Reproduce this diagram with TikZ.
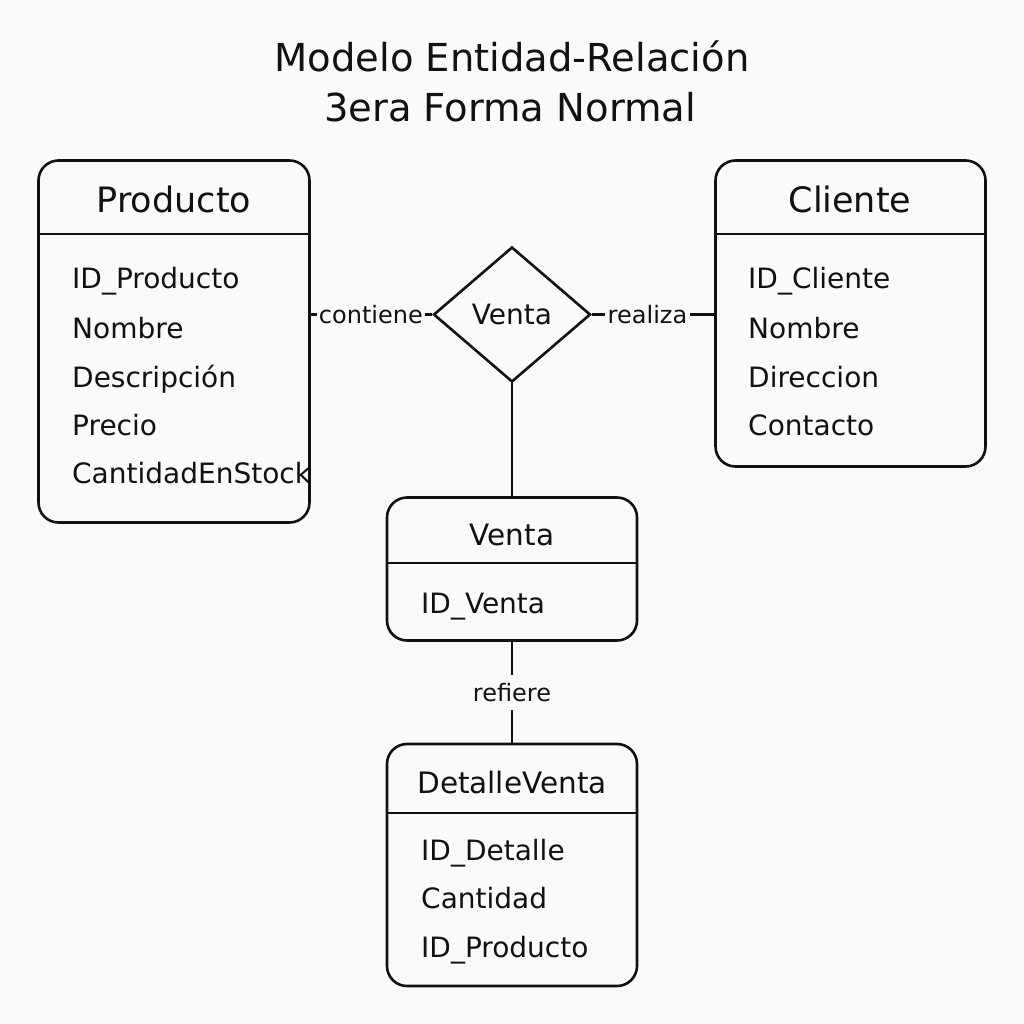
\documentclass[tikz,border=0pt]{standalone}
\usepackage{fontspec}
\setmainfont{DejaVu Sans}
\usetikzlibrary{shapes.geometric}
\definecolor{bg}{RGB}{250,250,250}
\definecolor{ink}{RGB}{17,17,17}
\begin{document}
\begin{tikzpicture}[x=1pt,y=-1pt,
  entbox/.style={draw=ink, line width=2.6pt, rounded corners=20pt, anchor=north west, inner sep=0pt, outer sep=0pt},
  sepline/.style={draw=ink, line width=2.6pt},
  bighdr/.style={anchor=base, inner sep=0pt, text=ink, font=\fontsize{35}{42}\selectfont},
  smallhdr/.style={anchor=base, inner sep=0pt, text=ink, font=\fontsize{29.5}{36}\selectfont},
  attr/.style={anchor=base west, inner sep=0pt, text=ink, font=\fontsize{28}{34}\selectfont},
  lbl/.style={fill=bg, inner xsep=3pt, inner ysep=8pt, text=ink, font=\fontsize{24}{28}\selectfont},
  conn/.style={draw=ink, line width=2.4pt},
  ttl/.style={anchor=base, inner sep=0pt, text=ink, font=\fontsize{38.5}{46}\selectfont}]

\fill[bg] (0,0) rectangle (1024,1024);
\useasboundingbox (0,0) rectangle (1024,1024);

% title
\node[ttl] (t1) at (512,72) {Modelo Entidad-Relación};
\node[ttl] (t2) at (510,122) {3era Forma Normal};

% helper coordinates for header separator lines
\coordinate (hA) at (0,234);
\coordinate (hV) at (0,563);
\coordinate (hD) at (0,813);

% Producto
\node[entbox, minimum width=271pt, minimum height=362pt] (prod) at (38.5,160.5) {};
\draw[sepline] (prod.west |- hA) -- (prod.east |- hA);
\node[bighdr] (prodh) at (174,213) {Producto};
\node[attr] (p1) at (72,288) {ID\_Producto};
\node[attr] (p2) at (72,338) {Nombre};
\node[attr] (p3) at (72,387) {Descripción};
\node[attr] (p4) at (72,435) {Precio};
\node[attr] (p5) at (72,483) {CantidadEnStock};

% Cliente
\node[entbox, minimum width=270pt, minimum height=306pt] (cli) at (715.5,160.5) {};
\draw[sepline] (cli.west |- hA) -- (cli.east |- hA);
\node[bighdr] (clih) at (850,213) {Cliente};
\node[attr] (c1) at (748,288) {ID\_Cliente};
\node[attr] (c2) at (748,338) {Nombre};
\node[attr] (c3) at (748,387) {Direccion};
\node[attr] (c4) at (748,435) {Contacto};

% Venta relationship diamond
\node[draw=ink, diamond, line width=2.6pt, minimum width=157pt, minimum height=135pt,
      inner sep=0pt, text=ink, font=\fontsize{28}{34}\selectfont] (dia) at (512,314.5) {\raisebox{-2pt}{Venta}};

% Venta entity
\node[entbox, minimum width=250pt, minimum height=143pt] (venta) at (387,497.5) {};
\draw[sepline] (venta.west |- hV) -- (venta.east |- hV);
\node[smallhdr] (ventah) at (512,545) {Venta};
\node[attr] (v1) at (421,613) {ID\_Venta};

% DetalleVenta entity
\node[entbox, minimum width=250pt, minimum height=242pt] (det) at (387,744) {};
\draw[sepline] (det.west |- hD) -- (det.east |- hD);
\node[smallhdr] (deth) at (512,793) {DetalleVenta};
\node[attr] (d1) at (421,860) {ID\_Detalle};
\node[attr] (d2) at (421,908) {Cantidad};
\node[attr] (d3) at (421,957) {ID\_Producto};

% connectors
\draw[conn] (prod.east |- dia.west) -- node[lbl, pos=0.5, inner xsep=2pt] {contiene} (dia.west);
\draw[conn] (dia.east) -- node[lbl, pos=0.45] {realiza} (cli.west |- dia.east);
\draw[conn] (dia.south) -- (venta.north);
\draw[conn] (venta.south) -- node[lbl] {refiere} (det.north);
\end{tikzpicture}
\end{document}
